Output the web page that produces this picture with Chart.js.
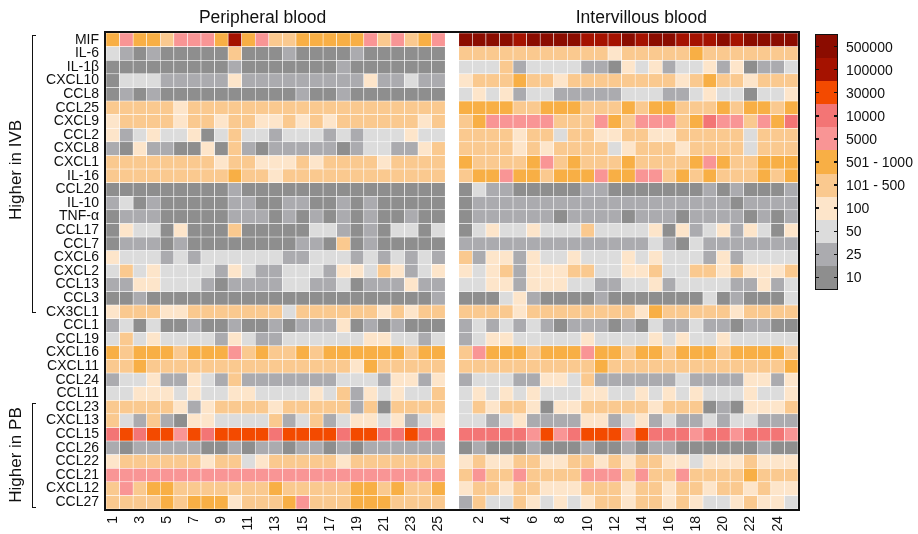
<!DOCTYPE html>
<html><head><meta charset="utf-8">
<script src="https://cdn.jsdelivr.net/npm/chart.js@4.4.1/dist/chart.umd.min.js"></script>
<style>
body{margin:0;background:#fff;font-family:"Liberation Sans",Arial,sans-serif;color:#111;}
#wrap{position:relative;width:918px;height:534px;overflow:hidden;}
#c{position:absolute;left:0;top:0;}
.side{position:absolute;font-size:17px;white-space:nowrap;transform:translate(-50%,-50%) rotate(-90deg);}
.brk{position:absolute;left:32px;width:4px;border:1.3px solid #111;border-right:none;box-sizing:border-box;}
#legend{position:absolute;left:815px;top:34px;width:23px;height:256px;border:1.5px solid #111;box-sizing:border-box;display:flex;flex-direction:column;}
#legend .cell{flex:1;position:relative;}
#legend .cell::before,#legend .cell::after{content:"";position:absolute;top:50%;width:3px;height:1.5px;margin-top:-0.75px;background:#111;}
#legend .cell::before{left:0;}
#legend .cell::after{right:0;}
#legend .lab{position:absolute;left:30px;top:50%;transform:translateY(-50%);font-size:14px;white-space:nowrap;}
</style>
</head><body>
<div id="wrap">
<canvas id="c" width="918" height="534"></canvas>
<div class="brk" style="top:35px;height:278px;"></div>
<div class="brk" style="top:403px;height:105px;"></div>
<div class="side" style="left:16px;top:170px;">Higher in IVB</div>
<div class="side" style="left:16px;top:455px;">Higher in PB</div>
<div id="legend"></div>
</div>
<script>
// Row names (top to bottom)
const cytokines = ["MIF","IL-6","IL-1β","CXCL10","CCL8","CCL25","CXCL9","CCL2","CXCL8","CXCL1","IL-16","CCL20","IL-10","TNF-α","CCL17","CCL7","CXCL6","CXCL2","CCL13","CCL3","CX3CL1","CCL1","CCL19","CXCL16","CXCL11","CCL24","CCL11","CCL23","CXCL13","CCL15","CCL26","CCL22","CCL21","CXCL12","CCL27"];
// Sample labels for each panel
const pbSamples = ["1","2","3","4","5","6","7","8","9","10","11","12","13","14","15","16","17","18","19","20","21","22","23","24","25"];
const ivbSamples = ["1","2","3","4","5","6","7","8","9","10","11","12","13","14","15","16","17","18","19","20","21","22","23","24","25"];
const panelTitles = ["Peripheral blood","Intervillous blood"];
// Concentration bins (index = level code used in the data below)
const levelLabels = ["10","25","50","100","101 - 500","501 - 1000","5000","10000","30000","100000","500000"];
const levelColors = ["#8e8e8e","#ababaf","#dcdcdc","#fde5ca","#fac98f","#f8af45","#f99595","#f37575","#f34a00","#a51200","#8b0c00"];

// Peripheral blood: level code per cytokine (rows) and sample (columns)
const pbLevels = [
[5,6,5,5,4,6,6,6,5,9,5,6,4,4,5,5,5,5,5,6,4,6,4,5,6],
[2,1,0,1,0,0,0,0,0,4,0,0,0,1,0,0,0,0,1,0,0,0,0,0,0],
[0,0,0,0,0,0,0,0,0,1,0,0,0,0,0,0,0,1,0,0,0,0,0,0,0],
[0,2,2,2,1,1,1,1,1,3,1,1,1,1,1,1,1,1,1,3,1,1,2,1,1],
[0,1,0,1,0,0,0,0,0,0,0,0,0,0,1,0,0,1,0,0,0,0,0,0,0],
[4,4,4,4,4,3,4,4,4,4,4,4,4,4,4,4,4,4,4,4,4,4,4,4,4],
[3,4,4,4,4,3,4,4,3,4,4,3,3,4,3,4,3,4,4,4,4,4,4,3,4],
[3,1,2,3,2,2,3,0,2,4,2,2,1,2,2,2,1,2,1,2,2,2,3,2,2],
[1,0,3,1,1,0,0,3,0,4,1,0,1,1,1,1,1,0,1,2,2,1,1,3,4],
[4,4,4,4,4,4,4,4,3,4,4,3,3,3,4,3,4,4,4,4,3,4,4,4,4],
[4,4,4,4,4,4,4,4,4,5,4,4,3,4,4,4,4,4,4,4,4,4,4,4,4],
[0,0,0,0,0,0,0,0,0,1,0,0,0,0,0,0,0,0,0,0,0,0,0,0,0],
[1,2,0,1,0,0,0,0,0,1,1,0,0,1,1,0,0,1,0,1,0,0,0,0,0],
[0,1,1,1,0,0,0,0,0,1,1,1,0,1,0,1,0,1,0,1,0,0,1,0,0],
[0,3,2,2,0,3,0,0,0,4,0,0,0,0,0,2,2,1,0,1,0,2,2,0,2],
[0,1,1,1,0,1,0,0,0,0,0,0,0,0,1,1,0,4,0,1,0,0,0,0,0],
[3,2,2,2,1,2,1,2,2,2,2,2,2,1,1,2,2,2,1,2,1,2,1,2,1],
[2,4,2,3,2,2,2,2,1,3,2,1,1,2,2,2,1,3,3,2,4,3,1,2,3],
[1,1,3,3,2,2,2,1,0,1,1,1,1,2,2,1,1,2,0,1,1,1,3,1,1],
[0,0,1,0,0,0,0,0,0,0,0,0,0,0,0,0,0,0,0,0,0,0,0,0,1],
[3,4,4,4,3,3,4,4,4,4,4,4,4,2,4,4,4,4,4,4,3,4,3,4,4],
[1,2,0,2,0,0,1,0,0,1,0,0,1,0,1,1,1,3,0,1,0,1,0,0,0],
[2,4,2,3,2,2,2,2,1,3,2,1,1,2,2,2,2,2,2,3,3,2,2,1,2],
[5,4,5,5,5,4,5,5,5,6,4,5,4,4,5,4,5,5,5,5,5,5,4,5,5],
[4,4,5,4,4,4,4,4,4,4,4,4,4,4,4,4,4,4,3,5,4,4,4,4,4],
[1,2,2,3,1,1,3,2,1,4,1,1,1,1,1,1,1,2,2,2,1,3,3,1,3],
[2,2,3,3,3,2,3,2,2,3,3,2,2,2,2,3,2,4,1,3,2,3,2,2,4],
[4,4,4,4,4,3,1,3,4,4,4,4,3,4,4,4,4,4,1,4,0,4,4,4,4],
[4,2,1,4,1,0,3,3,2,2,2,2,4,1,2,4,1,2,3,3,2,3,1,2,3],
[7,8,7,8,8,6,8,7,8,8,8,8,7,8,8,8,8,7,8,8,7,7,8,7,7],
[1,0,1,1,1,1,1,0,0,1,0,1,1,0,1,1,0,1,0,1,1,1,1,1,1],
[3,4,4,4,4,4,4,3,4,4,2,3,4,4,4,4,4,3,4,4,4,4,4,4,4],
[6,6,6,6,6,6,6,6,6,6,6,6,6,6,6,6,6,6,6,6,6,6,6,6,6],
[4,6,4,5,5,4,4,4,4,4,4,4,5,4,4,4,4,4,5,5,4,5,4,4,5],
[4,4,4,4,5,4,5,5,5,3,4,4,4,5,6,4,4,4,5,5,5,4,4,4,4]
];

// Intervillous blood: level code per cytokine (rows) and sample (columns)
const ivbLevels = [
[10,10,10,10,9,10,10,10,10,9,9,9,10,9,10,10,9,9,9,10,9,10,10,10,10],
[4,4,4,4,4,4,4,4,4,4,4,3,4,4,4,4,4,5,4,4,4,4,4,4,4],
[2,2,2,4,1,2,2,2,2,1,1,0,3,2,3,1,2,2,3,1,3,0,1,1,2],
[3,4,4,4,5,4,4,3,4,4,4,4,4,4,4,4,3,4,5,4,4,3,4,4,4],
[2,3,2,3,1,2,2,1,1,1,1,1,2,2,2,1,1,2,3,2,2,0,2,2,3],
[5,5,5,5,4,4,5,5,5,4,4,4,5,4,5,5,4,4,4,5,4,5,5,4,5],
[4,5,6,6,6,6,6,4,4,4,6,5,4,6,6,6,4,5,7,6,6,4,6,5,7],
[4,4,4,4,3,4,4,2,4,4,3,3,4,4,3,3,4,4,4,4,4,2,4,4,4],
[4,4,4,4,3,4,3,4,4,4,4,2,3,4,4,4,3,4,4,4,4,2,4,4,4],
[5,4,4,4,4,5,6,4,5,4,4,4,5,4,4,4,4,5,6,5,4,4,5,5,5],
[4,5,5,6,5,5,4,5,5,5,6,5,5,6,6,4,5,4,5,4,4,4,5,4,5],
[0,2,1,1,0,0,0,0,0,1,1,0,0,0,0,0,0,0,1,0,1,0,0,0,1],
[0,1,1,1,1,1,1,1,1,1,1,1,1,1,1,1,1,1,1,1,0,1,1,1,1],
[0,1,1,1,1,1,1,0,1,1,1,1,0,1,1,1,0,1,1,1,1,0,1,0,1],
[0,2,3,2,2,3,2,2,2,4,2,2,2,2,3,0,3,1,2,3,1,3,2,0,3],
[1,1,1,1,1,1,1,1,1,1,1,1,1,1,2,1,0,2,1,1,1,1,1,1,1],
[4,1,3,3,1,3,2,2,3,2,2,2,3,2,3,2,2,2,1,3,1,2,2,2,2],
[3,2,3,4,1,3,3,3,4,4,2,2,3,3,4,2,2,4,4,3,4,3,3,3,4],
[2,2,3,3,1,3,3,3,2,2,1,1,2,2,3,1,2,2,2,2,1,1,3,1,2],
[0,0,0,2,3,1,0,0,0,0,1,0,0,0,0,0,0,0,2,0,1,0,0,0,2],
[4,4,4,4,3,4,4,4,4,4,4,4,4,3,5,4,4,4,4,4,3,4,4,4,4],
[1,2,1,2,1,2,1,0,1,1,1,0,1,0,2,1,1,2,1,1,0,1,1,0,0],
[1,2,3,3,2,2,2,2,2,3,2,2,2,2,3,2,3,2,2,3,2,2,2,2,2],
[4,6,5,5,5,4,5,5,5,6,5,5,4,5,5,4,5,5,5,4,5,5,5,5,4],
[4,4,4,4,4,4,4,4,4,4,5,4,4,4,4,4,4,4,4,4,4,4,4,4,5],
[1,2,2,2,1,1,3,3,2,4,1,1,1,1,1,1,2,1,1,1,1,3,3,1,3],
[2,3,2,3,2,3,2,2,2,3,3,2,2,3,2,3,2,3,2,2,2,3,2,2,3],
[2,4,3,4,4,3,0,3,3,4,4,4,4,4,3,4,4,4,0,1,0,3,3,3,4],
[2,2,1,2,3,1,1,1,1,3,3,1,2,3,1,2,1,1,2,1,2,2,1,1,1],
[7,7,7,7,7,6,8,6,7,8,8,8,6,8,7,7,7,6,7,7,6,7,7,7,6],
[0,1,0,0,0,1,0,0,0,1,0,0,1,0,1,1,0,0,0,0,0,0,1,0,0],
[3,4,3,3,4,4,3,3,4,4,3,4,3,4,4,3,3,2,3,3,3,4,3,3,3],
[4,6,4,4,6,4,4,4,4,6,6,6,4,6,4,4,6,4,4,4,4,5,4,4,4],
[3,4,4,3,4,4,3,3,3,4,4,4,3,4,4,3,4,4,3,4,4,3,4,3,3],
[1,4,2,2,4,3,2,3,2,3,4,4,3,4,4,3,4,3,2,2,3,4,3,3,2]
];

// Build the x categories: PB samples, a spacer column, IVB samples
const nPB = pbSamples.length;
const xLabels = [...pbSamples, "", ...ivbSamples];

const datasets = cytokines.map((name, r) => {
  const lev = [...pbLevels[r], null, ...ivbLevels[r]];
  return {
    label: name,
    data: lev.map(v => v === null ? null : 1),
    backgroundColor: lev.map(v => v === null ? 'rgba(0,0,0,0)' : levelColors[v]),
    borderColor: 'rgba(255,255,255,0.9)',
    borderWidth: 0.6,
    borderSkipped: false,
    barPercentage: 1,
    categoryPercentage: 1
  };
});

const framePlugin = {
  id: 'frame',
  afterDatasetsDraw(chart) {
    const {ctx, chartArea: a, scales} = chart;
    ctx.save();
    ctx.strokeStyle = '#111';
    ctx.lineWidth = 2;
    ctx.strokeRect(a.left - 1, a.top - 1, a.right - a.left + 2, a.bottom - a.top + 2);
    // panel titles
    const x = scales.x;
    ctx.fillStyle = '#111';
    ctx.font = '17.5px "Liberation Sans", Arial, sans-serif';
    ctx.textAlign = 'center';
    ctx.textBaseline = 'middle';
    const c1 = (x.getPixelForValue(0) + x.getPixelForValue(nPB - 1)) / 2;
    const c2 = (x.getPixelForValue(nPB + 1) + x.getPixelForValue(xLabels.length - 1)) / 2;
    ctx.fillText(panelTitles[0], c1 - 13, 18);
    ctx.fillText(panelTitles[1], c2 + 13, 18);
    ctx.restore();
  }
};

const font = {family: '"Liberation Sans", Arial, sans-serif', size: 14};
new Chart(document.getElementById('c'), {
  type: 'bar',
  data: {labels: xLabels, datasets},
  options: {
    responsive: false,
    animation: false,
    devicePixelRatio: 1,
    layout: {padding: {left: 0, top: 33, right: 120, bottom: 0}},
    plugins: {legend: {display: false}, tooltip: {enabled: false}, title: {display: false}},
    scales: {
      x: {
        stacked: true,
        grid: {display: false, drawTicks: false},
        border: {display: false},
        ticks: {
          autoSkip: false, minRotation: 90, maxRotation: 90, padding: 7,
          color: '#111', font,
          callback: (v, i) => {
            if (i < nPB) return (i % 2 === 0) ? xLabels[i] : '';
            if (i === nPB) return '';
            const j = i - nPB - 1;
            return (j % 2 === 1) ? xLabels[i] : '';
          }
        },
        afterFit: s => { s.height = 25; }
      },
      y: {
        stacked: true,
        reverse: true,
        min: 0, max: cytokines.length,
        grid: {display: false, drawTicks: false},
        border: {display: false},
        afterBuildTicks: s => { s.ticks = cytokines.map((_, i) => ({value: i + 0.5})); },
        ticks: {
          autoSkip: false, padding: 7, color: '#111', font,
          callback: (v, i) => cytokines[i]
        },
        afterFit: s => { s.width = 106; }
      }
    }
  },
  plugins: [framePlugin]
});

// Colour key (top = highest)
const leg = document.getElementById('legend');
for (let k = levelLabels.length - 1; k >= 0; k--) {
  const d = document.createElement('div');
  d.className = 'cell';
  d.style.background = levelColors[k];
  const l = document.createElement('span');
  l.className = 'lab';
  l.textContent = levelLabels[k];
  d.appendChild(l);
  leg.appendChild(d);
}
</script>
</body></html>
